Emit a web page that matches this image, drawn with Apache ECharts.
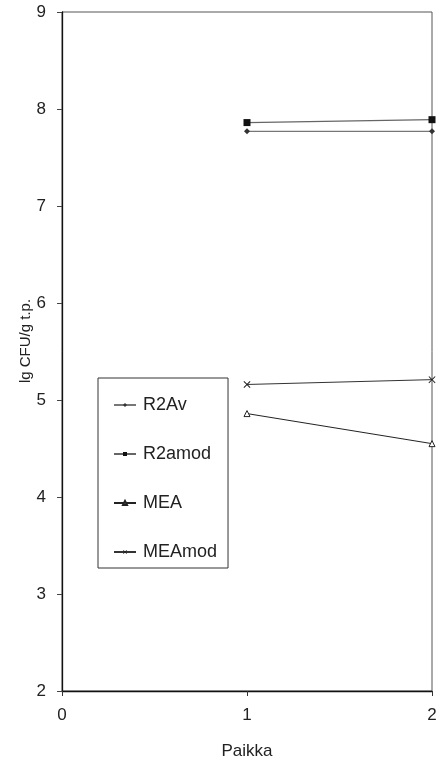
<!DOCTYPE html>
<html>
<head>
<meta charset="utf-8">
<script src="https://cdn.jsdelivr.net/npm/echarts@6/dist/echarts.min.js"></script>
<style>
  html, body { margin: 0; padding: 0; background: #fff; }
  #chart { width: 436px; height: 766px; }
</style>
</head>
<body>
<div id="chart"></div>
<script>
// Sampling sites (x) and log counts per series
const paikka = [1, 2];
const r2av = [7.77, 7.77];
const r2amod = [7.86, 7.89];
const mea = [4.86, 4.55];
const meamod = [5.16, 5.21];

const xTicks = [0, 1, 2];
const yMin = 2, yMax = 9;
const yTitle = 'lg CFU/g t.p.';

const crossPath = 'path://M0,1L1,0L5,4L9,0L10,1L6,5L10,9L9,10L5,6L1,10L0,9L4,5Z';

function pts(vals) { return paikka.map((x, i) => [x, vals[i]]); }

const font = 'Liberation Sans, Arial, sans-serif';

const chart = echarts.init(document.getElementById('chart'));
chart.setOption({
  animation: false,
  backgroundColor: '#fff',
  grid: {
    left: 62, right: 4, top: 12, bottom: 75,
    outerBoundsMode: 'none', containLabel: false,
    show: true, borderColor: '#555', borderWidth: 1
  },
  // vertical axis title, placed beside the tick labels
  graphic: [{
    type: 'text', x: 26, y: 341, rotation: Math.PI / 2,
    style: {
      text: yTitle, fontFamily: font, fontSize: 15, fill: '#222',
      align: 'center', verticalAlign: 'middle'
    }
  }],
  xAxis: {
    type: 'value', min: xTicks[0], max: xTicks[xTicks.length - 1], interval: 1,
    name: 'Paikka', nameLocation: 'middle', nameGap: 52,
    nameTextStyle: { fontFamily: font, fontSize: 17, color: '#222' },
    axisLine: { lineStyle: { color: '#111', width: 1.3 } },
    axisTick: { show: true, inside: false, length: 5, lineStyle: { color: '#333' } },
    axisLabel: { fontFamily: font, fontSize: 17, color: '#222', margin: 16 },
    splitLine: { show: false }
  },
  yAxis: {
    type: 'value', min: yMin, max: yMax, interval: 1,
    axisLine: { lineStyle: { color: '#111', width: 1.3 } },
    axisTick: { show: true, length: 5, lineStyle: { color: '#444' } },
    axisLabel: { fontFamily: font, fontSize: 17, color: '#222', margin: 16 },
    splitLine: { show: false }
  },
  legend: {
    orient: 'vertical', left: 98, top: 378,
    padding: [18, 11, 7, 15], itemGap: 31, itemWidth: 22, itemHeight: 5,
    borderColor: '#333', borderWidth: 1, backgroundColor: '#fff',
    textStyle: { fontFamily: font, fontSize: 18, color: '#222', padding: [0, 0, 0, 2] },
    data: ['R2Av', 'R2amod', 'MEA', 'MEAmod']
  },
  series: [
    {
      name: 'R2Av', type: 'line', data: pts(r2av),
      symbol: 'diamond', symbolSize: 6,
      lineStyle: { color: '#777', width: 1.2 },
      itemStyle: { color: '#333' }
    },
    {
      name: 'R2amod', type: 'line', data: pts(r2amod),
      symbol: 'rect', symbolSize: 7,
      lineStyle: { color: '#666', width: 1.2 },
      itemStyle: { color: '#111' }
    },
    {
      name: 'MEA', type: 'line', data: pts(mea),
      symbol: 'triangle', symbolSize: 6,
      lineStyle: { color: '#222', width: 1 },
      itemStyle: { color: '#fff', borderColor: '#222', borderWidth: 1 }
    },
    {
      name: 'MEAmod', type: 'line', data: pts(meamod),
      symbol: crossPath, symbolSize: 7,
      lineStyle: { color: '#333', width: 1 },
      itemStyle: { color: '#222' }
    }
  ]
});
</script>
</body>
</html>
